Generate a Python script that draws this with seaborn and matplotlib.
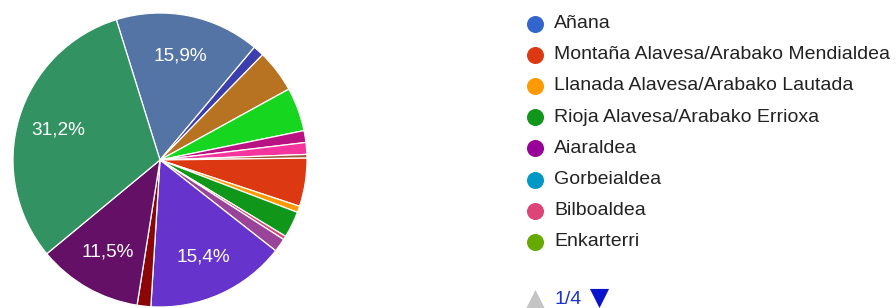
import matplotlib
matplotlib.use("Agg")
import matplotlib.pyplot as plt
import seaborn as sns

# slices, clockwise from the 15,9% wedge
slice_values = [15.9, 1.2, 4.7, 4.8, 1.3, 1.3, 0.4, 5.3, 0.7, 2.9, 0.4, 1.5, 15.4, 1.5, 11.5, 31.2]
slice_colors = ["#5574a6", "#3b3eac", "#b77322", "#16d620", "#b91383", "#f4359e", "#9c5935",
                "#dc3912", "#ff9900", "#109618", "#dd4477", "#994499", "#6633cc", "#8b0707",
                "#651067", "#329262"]

# first legend page (1/4)
legend_labels = ["Añana", "Montaña Alavesa/Arabako Mendialdea", "Llanada Alavesa/Arabako Lautada",
                 "Rioja Alavesa/Arabako Errioxa", "Aiaraldea", "Gorbeialdea", "Bilboaldea", "Enkarterri"]
legend_colors = ["#3366cc", "#dc3912", "#ff9900", "#109618", "#990099", "#0099c6", "#dd4477", "#66aa00"]
page_text = "1/4"

sns.set_theme(style="white")
plt.rcParams["font.family"] = ["Liberation Sans", "DejaVu Sans"]

W, H = 896, 308
fig = plt.figure(figsize=(W / 100, H / 100), dpi=100)

# pie
cx, cy, r = 160, 160, 147
ax = fig.add_axes([(cx - r) / W, (H - cy - r) / H, 2 * r / W, 2 * r / H])


def fmt(p):
    return f"{p:.1f}%".replace(".", ",") if p > 10 else ""


wedges, texts, autotexts = ax.pie(
    slice_values, colors=slice_colors, startangle=107.3, counterclock=False,
    autopct=fmt, pctdistance=0.72,
    wedgeprops=dict(edgecolor="white", linewidth=0.9),
    textprops=dict(color="white", fontsize=13.7),
)
ax.set_xlim(-1, 1)
ax.set_ylim(-1, 1)
ax.set_aspect("equal")
ax.axis("off")

# legend, drawn in pixel coordinates
lg = fig.add_axes([0, 0, 1, 1])
lg.set_xlim(0, W)
lg.set_ylim(H, 0)
lg.axis("off")
y0, step = 23.5, 31.2
for i, (lab, col) in enumerate(zip(legend_labels, legend_colors)):
    y = y0 + i * step
    lg.scatter([535], [y], s=150, color=col, linewidths=0)
    lg.text(554, y, lab, fontsize=14, color="#222222", va="center")

# pagination
lg.scatter([535], [299], s=190, marker="^", color="#c4c4c4", linewidths=0)
lg.text(555, 299, page_text, fontsize=14, color="#1a33cc", va="center")
lg.scatter([599], [298], s=190, marker="v", color="#0b14cc", linewidths=0)

fig.savefig("out.png", dpi=100)
